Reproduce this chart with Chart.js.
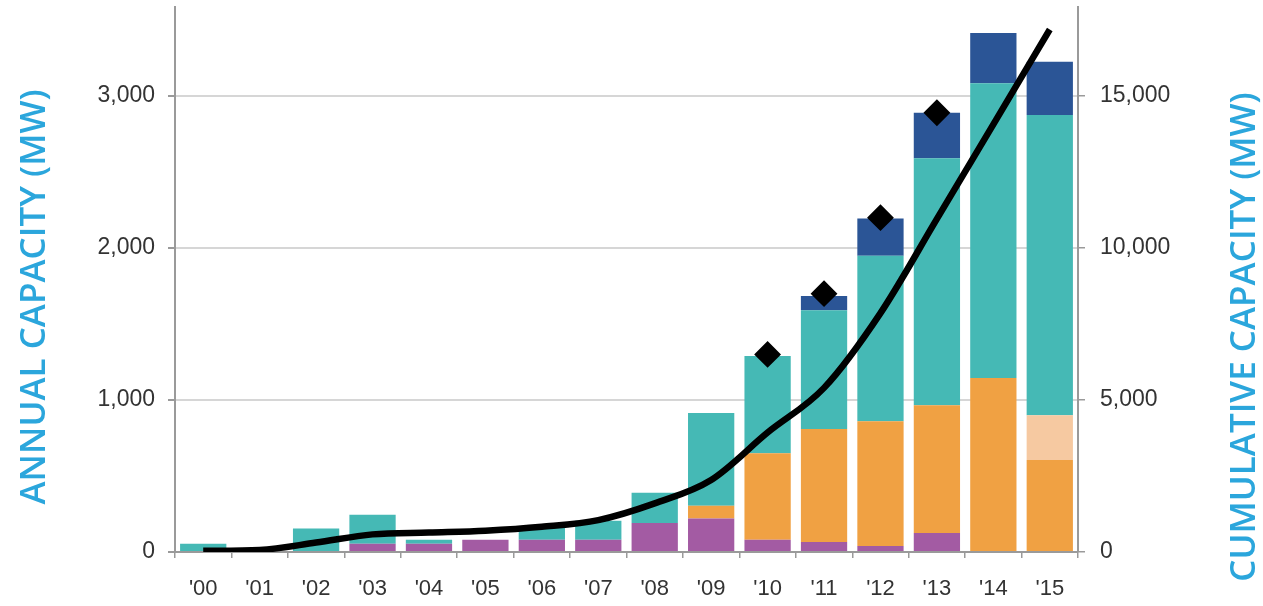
<!DOCTYPE html>
<html>
<head>
<meta charset="utf-8">
<title>Annual and cumulative capacity</title>
<script src="https://cdn.jsdelivr.net/npm/chart.js@4.4.1/dist/chart.umd.min.js"></script>
<style>
  html, body { margin: 0; padding: 0; background: #fff; }
  #wrap { position: relative; width: 1263px; height: 606px; }
</style>
</head>
<body>
<div id="wrap"><canvas id="capacity"></canvas></div>
<script>
// years on the x axis
const years = ["'00", "'01", "'02", "'03", "'04", "'05", "'06", "'07",
               "'08", "'09", "'10", "'11", "'12", "'13", "'14", "'15"];

// annual capacity by segment (MW), stacked bottom to top
const purple   = [0, 0, 0, 55, 55, 80, 80, 80, 190, 220, 80, 65, 40, 125, 0, 0];
const orange   = [0, 0, 0, 0, 0, 0, 0, 0, 0, 85, 570, 745, 820, 840, 1145, 605];
const peach    = [0, 0, 0, 0, 0, 0, 0, 0, 0, 0, 0, 0, 0, 0, 0, 295];
const teal     = [55, 0, 155, 190, 25, 0, 90, 125, 200, 610, 640, 780, 1090, 1625, 1940, 1975];
const darkBlue = [0, 0, 0, 0, 0, 0, 0, 0, 0, 0, 0, 95, 245, 300, 330, 350];

// diamond markers (MW, left axis)
const diamonds = [null, null, null, null, null, null, null, null,
                  null, null, 1300, 1700, 2200, 2890, null, null];

// cumulative capacity (MW, right axis)
const cumulative = [40, 70, 310, 580, 640, 700, 830, 1050,
                    1600, 2370, 3930, 5400, 7860, 10960, 14070, 17190];

const annualTicks = [0, 1000, 2000, 3000];
const cumulativeTicks = [0, 5000, 10000, 15000];

const titleBlue = '#2ba6dc';
const tickFont = { family: "'Liberation Sans', Arial, sans-serif", size: 23 };

function barSet(label, data, color) {
  return {
    type: 'bar', label, data, backgroundColor: color, borderWidth: 0,
    yAxisID: 'y', stack: 'annual', order: 2,
    barPercentage: 0.82, categoryPercentage: 1.0
  };
}

// no extra room for overflowing tick labels; the chart area is set by padding
function noLabelPadding(scale) {
  scale.paddingTop = 0;
  scale.paddingBottom = 0;
  scale.paddingLeft = 0;
  scale.paddingRight = 0;
}

// rotated axis titles, placed from the chart area edges
const axisTitles = {
  id: 'axisTitles',
  afterDraw(chart) {
    const { ctx, chartArea, width } = chart;
    const draw = (text, x, y) => {
      ctx.save();
      ctx.fillStyle = titleBlue;
      ctx.font = "600 35px 'Open Sans', sans-serif";
      ctx.textAlign = 'center';
      ctx.textBaseline = 'middle';
      ctx.translate(x, y);
      ctx.rotate(-Math.PI / 2);
      ctx.fillText(text, 0, 0);
      ctx.restore();
    };
    draw('ANNUAL CAPACITY (MW)', 35, chartArea.top + 290);
    draw('CUMULATIVE CAPACITY (MW)', width - 18, chartArea.top + 330);
  }
};

new Chart(document.getElementById('capacity'), {
  data: {
    labels: years,
    datasets: [
      barSet('Purple', purple, '#a35ba3'),
      barSet('Orange', orange, '#f0a143'),
      barSet('Peach', peach, '#f6c9a1'),
      barSet('Teal', teal, '#45b9b5'),
      barSet('Dark blue', darkBlue, '#2b5596'),
      {
        type: 'line', label: 'Cumulative', data: cumulative, yAxisID: 'y2',
        borderColor: '#000', borderWidth: 6.5, pointRadius: 0,
        cubicInterpolationMode: 'monotone', fill: false, order: 1
      },
      {
        type: 'line', label: 'Markers', data: diamonds, yAxisID: 'y', stack: 'marks',
        showLine: false, pointStyle: 'rectRot', pointRadius: 12,
        pointBackgroundColor: '#000', pointBorderColor: '#000', pointBorderWidth: 2,
        order: 0
      }
    ]
  },
  options: {
    responsive: true,
    maintainAspectRatio: false,
    animation: false,
    layout: { autoPadding: false, padding: { top: 7, left: 0, right: 0, bottom: 0 } },
    plugins: { legend: { display: false }, tooltip: { enabled: false } },
    scales: {
      x: {
        stacked: true,
        afterFit(scale) { noLabelPadding(scale); scale.height = 54; },
        border: { color: '#9a9a9a', width: 2 },
        grid: { offset: true, drawOnChartArea: false, tickLength: 6, color: '#9a9a9a', lineWidth: 1.5 },
        ticks: { color: '#333', font: { ...tickFont, size: 22 }, padding: 18, maxRotation: 0 }
      },
      y: {
        position: 'left',
        stacked: true,
        min: 0,
        max: 3586,
        afterFit(scale) { noLabelPadding(scale); scale.width = 175; },
        afterBuildTicks(scale) { scale.ticks = annualTicks.map(v => ({ value: v })); },
        border: { color: '#9a9a9a', width: 2 },
        grid: {
          color: ctx => ctx.tick && ctx.tick.value === 0 ? '#9a9a9a' : '#d6d6d6',
          lineWidth: 2, tickLength: 7, tickColor: '#9a9a9a'
        },
        ticks: {
          color: '#333', font: tickFont, padding: 13,
          callback: v => v.toLocaleString('en-US')
        }
      },
      y2: {
        position: 'right',
        min: 0,
        max: 17930,
        afterFit(scale) { noLabelPadding(scale); scale.width = 185; },
        afterBuildTicks(scale) { scale.ticks = cumulativeTicks.map(v => ({ value: v })); },
        border: { color: '#9a9a9a', width: 2 },
        grid: { drawOnChartArea: false, tickLength: 7, color: '#9a9a9a', lineWidth: 1.5 },
        ticks: {
          color: '#333', font: tickFont, padding: 15,
          callback: v => v.toLocaleString('en-US')
        }
      }
    }
  },
  plugins: [axisTitles]
});
</script>
</body>
</html>
